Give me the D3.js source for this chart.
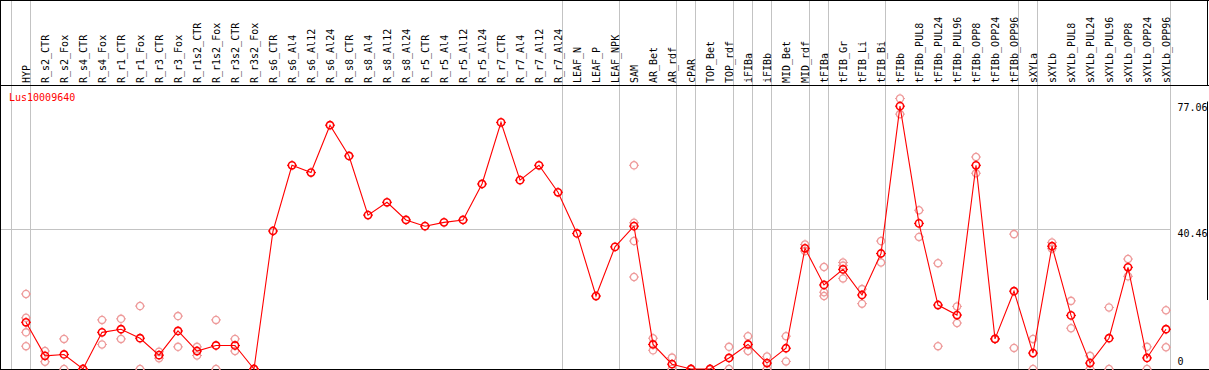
<!DOCTYPE html>
<html>
<head>
<meta charset="utf-8">
<script src="https://cdn.jsdelivr.net/npm/d3@7"></script>
<style>
  html, body { margin: 0; padding: 0; background: #fff; }
  svg { display: block; }
  text { font-family: "DejaVu Sans Mono", "Liberation Mono", monospace; font-size: 10px; }
</style>
</head>
<body>
<svg id="chart" width="1209" height="370"></svg>
<script>
const categories = ["HYP","R_s2_CTR","R_s2_Fox","R_s4_CTR","R_s4_Fox","R_r1_CTR","R_r1_Fox","R_r3_CTR","R_r3_Fox","R_r1s2_CTR","R_r1s2_Fox","R_r3s2_CTR","R_r3s2_Fox","R_s6_CTR","R_s6_Al4","R_s6_Al12","R_s6_Al24","R_s8_CTR","R_s8_Al4","R_s8_Al12","R_s8_Al24","R_r5_CTR","R_r5_Al4","R_r5_Al12","R_r5_Al24","R_r7_CTR","R_r7_Al4","R_r7_Al12","R_r7_Al24","LEAF_N","LEAF_P","LEAF_NPK","SAM","AR_Bet","AR_rdf","cPAR","TOP_Bet","TOP_rdf","iFIBa","iFIBb","MID_Bet","MID_rdf","tFIBa","tFIB_Gr","tFIB_Li","tFIB_Bi","tFIBb","tFIBb_PUL8","tFIBb_PUL24","tFIBb_PUL96","tFIBb_OPP8","tFIBb_OPP24","tFIBb_OPP96","sXYLa","sXYLb","sXYLb_PUL8","sXYLb_PUL24","sXYLb_PUL96","sXYLb_OPP8","sXYLb_OPP24","sXYLb_OPP96"];

const meanValues = [13.5,3.8,4.2,0,10.6,11.5,8.9,4.0,11.0,5.2,6.8,6.8,0,39.9,58.9,56.8,70.5,61.6,44.5,48.2,43.1,41.3,42.4,43.1,53.5,71.3,54.6,58.9,51.1,39.2,21.1,35.3,41.3,7.1,1.4,0,0,3.2,7.1,1.7,6.0,34.9,24.3,28.8,21.4,33.4,76.0,42.1,18.5,15.6,58.9,8.7,22.5,4.6,35.5,15.5,1.7,8.9,29.4,3.2,11.5];

const replicateValues = [
  [21.7,14.8,10.6,6.6],[5.2,2.1],[8.7,0],[0,0],[14.2,7.1],[14.5,8.7],[18.2,0],[5.0,3.1],[15.3,6.4],[6.4,3.9],[14.2,0],[8.7,5.2],[0,0],
  [],[],[],[],[],[],[],[],[],[],[],[],[],[],[],[],
  [],[],[],
  [58.9,42.3,37.0,26.6],[8.9,5.4],[3.3,0],[0,0],[0,0],[6.4,0],[9.5,5.2],[3.6,0],[9.5,2.2],[36.0,34.1],
  [29.5,22.2,21.1],[30.8,29.9,26.2],[23.1,18.9],[37.0,30.8],[78.2,73.7],
  [45.9,38.2],[30.6,6.6],[18.1,13.3],[61.3,56.6],[8.7,8.7],[39.0,6.1],
  [8.7,0],[36.6,34.8],[19.7,11.8],[3.8,0],[17.8,0],[31.8,26.8],[6.4,0],[17.0,6.3]
];

const groupEnds = ["HYP","R_r7_Al24","LEAF_NPK","AR_rdf","cPAR","TOP_rdf","iFIBa","iFIBb","MID_rdf","tFIBa","tFIB_Bi","tFIBb_OPP96","sXYLa","sXYLb_OPP96"];
const yTicks = [77.06, 40.46, 0];
const gridValues = [40.46];
const title = "Lus10009640";

const svg = d3.select("#chart");
const W = 1209, H = 370;

const x = d3.scalePoint().domain(categories).range([26, 1166]).padding(0);
const step = x.step();
const y = d3.scaleLinear().domain([0, 77.06]).range([369, 102.5]);

const gray = "#c3c3c3";

// vertical group separators
const sepX = [x(categories[0]) - step + 4.5].concat(groupEnds.map(c => x(c) + 4.5));
svg.append("g").selectAll("line").data(sepX).join("line")
  .attr("x1", d => Math.floor(d) + 0.5).attr("x2", d => Math.floor(d) + 0.5)
  .attr("y1", 0).attr("y2", 369)
  .attr("stroke", gray).attr("stroke-width", 1);

// horizontal grid
svg.append("g").selectAll("line").data(gridValues).join("line")
  .attr("x1", 1).attr("x2", 1170)
  .attr("y1", d => Math.round(y(d)) + 0.5).attr("y2", d => Math.round(y(d)) + 0.5)
  .attr("stroke", gray).attr("stroke-width", 1);

// frame
const frame = svg.append("g").attr("stroke", "#000").attr("stroke-width", 1);
frame.append("line").attr("x1", 0).attr("x2", W).attr("y1", 0.5).attr("y2", 0.5);
frame.append("line").attr("x1", 0).attr("x2", W).attr("y1", 85.5).attr("y2", 85.5);
frame.append("line").attr("x1", 0.5).attr("x2", 0.5).attr("y1", 0).attr("y2", H);
frame.append("line").attr("x1", 0).attr("x2", W).attr("y1", 369.5).attr("y2", 369.5);
frame.append("line").attr("x1", W - 1.5).attr("x2", W - 1.5).attr("y1", 0).attr("y2", 85);
frame.append("line").attr("x1", W - 1.5).attr("x2", W - 1.5).attr("y1", y(77.06) - 1).attr("y2", 300);

// category labels
svg.append("g").selectAll("text").data(categories).join("text")
  .attr("transform", d => `translate(${x(d) + 3.5},83) rotate(-90)`)
  .attr("text-anchor", "start")
  .attr("fill", "#000")
  .text(d => d);

// right axis labels
svg.append("g").selectAll("text").data(yTicks).join("text")
  .attr("x", 1177.5)
  .attr("y", d => d === 0 ? y(d) - 4.5 : y(d) + 8)
  .attr("fill", "#000")
  .text(d => d === 0 ? "0" : d.toFixed(2));

// title
svg.append("text").attr("x", 9).attr("y", 100.5).attr("fill", "#ff0000").text(title);

// replicate points
const reps = [];
categories.forEach((c, i) => replicateValues[i].forEach(v => reps.push({c, v})));

function marker(g, col, sw) {
  g.append("circle").attr("r", 3.6).attr("fill", "none").attr("stroke", col).attr("stroke-width", sw);
  g.append("path").attr("d", "M0,-5V-4M0,4V5M-5,0H-4M4,0H5").attr("stroke", col).attr("stroke-width", 1);
}

svg.append("g").selectAll("g").data(reps).join("g")
  .attr("transform", d => `translate(${x(d.c)},${y(d.v)})`)
  .each(function() { marker(d3.select(this), "#ee9b9b", 1.3); });

// mean line
const line = d3.line().x((d, i) => x(categories[i])).y(d => y(d));
svg.append("path").datum(meanValues)
  .attr("d", line).attr("fill", "none").attr("stroke", "#ff0000").attr("stroke-width", 1.1);

svg.append("g").selectAll("g").data(meanValues).join("g")
  .attr("transform", (d, i) => `translate(${x(categories[i])},${y(d)})`)
  .each(function() { marker(d3.select(this), "#ff0000", 1.6); });
</script>
</body>
</html>
